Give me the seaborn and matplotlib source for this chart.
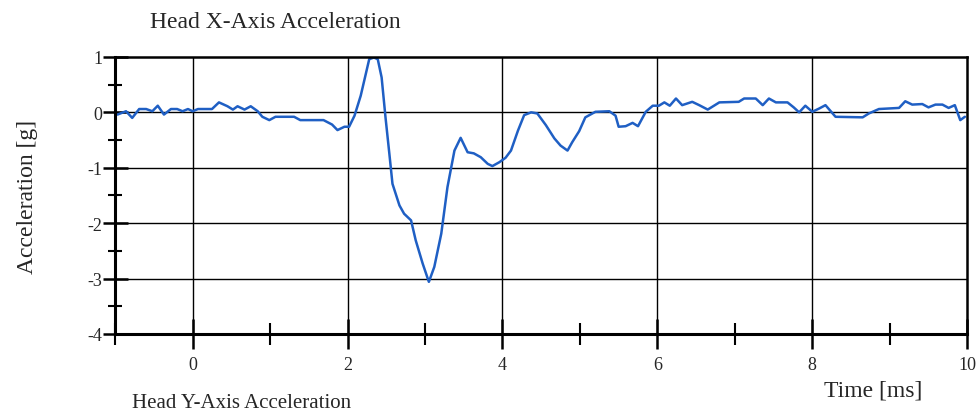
import numpy as np
import pandas as pd
import matplotlib
matplotlib.use("Agg")
import matplotlib.pyplot as plt
from matplotlib.ticker import MultipleLocator
import seaborn as sns

time_ms = [-0.97, -0.86, -0.78, -0.69, -0.60, -0.52, -0.45, -0.37, -0.28, -0.20,
           -0.13, -0.06, 0.00, 0.07, 0.25, 0.34, 0.45, 0.52, 0.58, 0.67,
           0.75, 0.84, 0.90, 0.99, 1.07, 1.31, 1.39, 1.69, 1.80, 1.87,
           1.96, 2.02, 2.09, 2.17, 2.28, 2.34, 2.39, 2.44, 2.49, 2.54,
           2.58, 2.67, 2.73, 2.82, 2.88, 2.97, 3.05, 3.12, 3.21, 3.29,
           3.38, 3.46, 3.55, 3.63, 3.72, 3.81, 3.87, 3.96, 4.04, 4.11,
           4.20, 4.28, 4.37, 4.45, 4.56, 4.67, 4.75, 4.84, 4.90, 4.99,
           5.07, 5.20, 5.38, 5.46, 5.50, 5.59, 5.68, 5.75, 5.85, 5.94,
           6.02, 6.09, 6.16, 6.24, 6.32, 6.45, 6.54, 6.65, 6.80, 7.05,
           7.12, 7.27, 7.36, 7.44, 7.53, 7.68, 7.76, 7.83, 7.91, 8.00,
           8.09, 8.17, 8.30, 8.65, 8.73, 8.86, 9.12, 9.20, 9.29, 9.42,
           9.50, 9.59, 9.68, 9.76, 9.84, 9.91, 9.97]
accel_g = [-0.04, 0.02, -0.10, 0.06, 0.06, 0.02, 0.12, -0.04, 0.06, 0.06,
           0.02, 0.06, 0.02, 0.06, 0.06, 0.18, 0.11, 0.05, 0.11, 0.05,
           0.11, 0.02, -0.08, -0.14, -0.08, -0.08, -0.14, -0.14, -0.22, -0.32,
           -0.26, -0.26, -0.06, 0.30, 0.96, 0.99, 0.96, 0.63, -0.09, -0.75,
           -1.29, -1.68, -1.83, -1.95, -2.31, -2.73, -3.06, -2.79, -2.19, -1.35,
           -0.69, -0.46, -0.72, -0.74, -0.81, -0.93, -0.97, -0.90, -0.82, -0.69,
           -0.33, -0.05, 0.00, -0.02, -0.23, -0.47, -0.60, -0.69, -0.54, -0.34,
           -0.09, 0.01, 0.02, -0.06, -0.26, -0.25, -0.19, -0.25, 0.01, 0.12,
           0.12, 0.18, 0.12, 0.25, 0.13, 0.19, 0.13, 0.05, 0.18, 0.19,
           0.25, 0.25, 0.13, 0.25, 0.18, 0.18, 0.09, 0.00, 0.12, 0.01,
           0.07, 0.13, -0.08, -0.09, -0.02, 0.06, 0.08, 0.20, 0.14, 0.15,
           0.09, 0.14, 0.14, 0.08, 0.13, -0.14, -0.08]

x_ticks = [0, 2, 4, 6, 8, 10]
y_ticks = [-4, -3, -2, -1, 0, 1]

df = pd.DataFrame({"t": time_ms, "a": accel_g})

sns.set_style("white")
plt.rcParams["font.family"] = ["Liberation Serif", "DejaVu Serif"]

fig = plt.figure(figsize=(9.76, 4.14), dpi=100)
ax = fig.add_axes([0.118, 0.191, 0.873, 0.669])

sns.lineplot(data=df, x="t", y="a", ax=ax, color="#1f5fc4", linewidth=1.8)

ax.set_xlim(-1, 10)
ax.set_ylim(-4, 1)
ax.set_xticks(x_ticks)
ax.set_yticks(y_ticks)
ax.set_xticklabels([str(v) for v in x_ticks])
ax.set_yticklabels([str(v) for v in y_ticks])
ax.xaxis.set_minor_locator(MultipleLocator(1))
ax.yaxis.set_minor_locator(MultipleLocator(0.5))

for v in [0, 2, 4, 6, 8]:
    ax.axvline(v, color="black", linewidth=1.0, zorder=1)
for v in [-3, -2, -1, 0]:
    ax.axhline(v, color="black", linewidth=1.0, zorder=1)

for side in ["left", "bottom"]:
    ax.spines[side].set_linewidth(2.2)
    ax.spines[side].set_color("black")
for side in ["top", "right"]:
    ax.spines[side].set_linewidth(1.8)
    ax.spines[side].set_color("black")
    ax.spines[side].set_visible(True)

ax.tick_params(axis="x", which="major", direction="inout", length=22, width=1.8,
               labelsize=13, pad=5, bottom=True, color="black")
ax.tick_params(axis="x", which="minor", direction="inout", length=16, width=1.5,
               bottom=True, color="black")
ax.tick_params(axis="y", which="major", direction="inout", length=18, width=1.8,
               labelsize=13, pad=0, left=True, color="black")
ax.tick_params(axis="y", which="minor", direction="inout", length=10, width=1.5,
               left=True, color="black")

ax.set_xlabel("")
ax.set_ylabel("")
fig.text(0.154, 0.945, "Head X-Axis Acceleration", fontsize=17, ha="left", va="center")
fig.text(0.028, 0.525, "Acceleration [g]", fontsize=17, rotation=90, ha="center", va="center")
fig.text(0.895, 0.055, "Time [ms]", fontsize=17, ha="center", va="center")
fig.text(0.135, 0.002, "Head Y-Axis Acceleration", fontsize=15, ha="left", va="bottom")

fig.savefig("out.png", dpi=100)
